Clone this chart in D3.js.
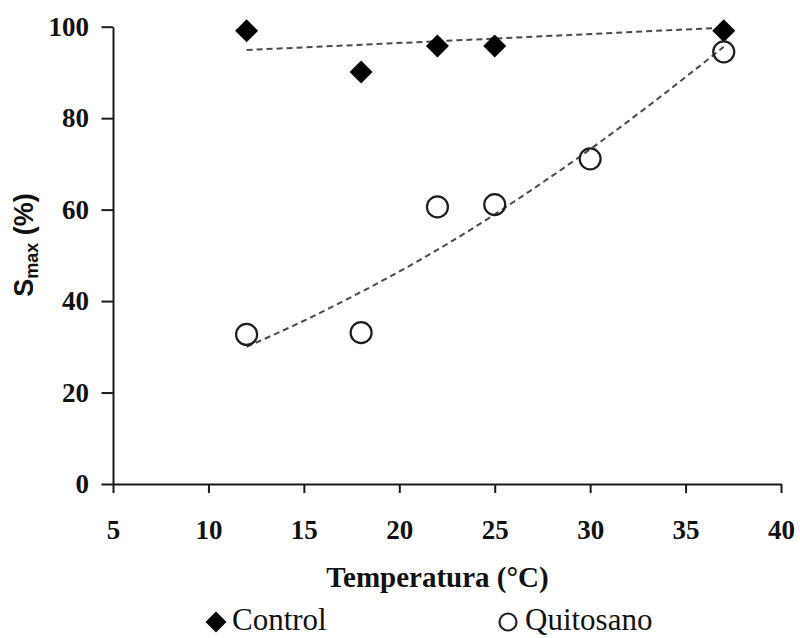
<!DOCTYPE html>
<html>
<head>
<meta charset="utf-8">
<script src="https://cdn.jsdelivr.net/npm/d3@7"></script>
<style>
  html, body { margin: 0; padding: 0; background: #fff; }
  svg { display: block; }
</style>
</head>
<body>
<svg id="chart" width="800" height="638"></svg>
<script>
// ---- data ----
const xTicks = [5, 10, 15, 20, 25, 30, 35, 40];
const yTicks = [0, 20, 40, 60, 80, 100];

const controlTemp = [12, 18, 22, 25, 37];
const controlSmax = [99.1, 90.1, 95.8, 95.8, 99.1];

const quitTemp = [12, 18, 22, 25, 30, 37];
const quitSmax = [32.7, 33.1, 60.6, 61.1, 71.1, 94.5];

// trend lines
const controlTrendTemp = [12, 25, 37];
const controlTrendVal  = [94.9, 97.4, 99.8];
const quitTrendTemp = [12, 15, 18, 21, 24, 27, 30, 33, 37];
const quitTrendVal  = [30.0, 35.7, 42.0, 48.8, 56.3, 64.5, 73.2, 82.5, 95.6];

const xTitle = "Temperatura (°C)";
const legendLabels = ["Control", "Quitosano"];

// ---- layout ----
const svg = d3.select("#chart");
const x = d3.scaleLinear().domain([5, 40]).range([113, 781]);
const y = d3.scaleLinear().domain([0, 100]).range([484, 26.7]);

const serif = "'Liberation Serif', 'Times New Roman', serif";
const sans = "'Liberation Sans', Arial, sans-serif";
const axisColor = "#1a1a1a";

// trend lines
const line = d3.line().x(d => x(d[0])).y(d => y(d[1]));
svg.append("path")
  .datum(controlTrendTemp.map((t, i) => [t, controlTrendVal[i]]))
  .attr("d", line)
  .attr("fill", "none").attr("stroke", "#4a4a4a")
  .attr("stroke-width", 2).attr("stroke-dasharray", "6,4");
svg.append("path")
  .datum(quitTrendTemp.map((t, i) => [t, quitTrendVal[i]]))
  .attr("d", d3.line().x(d => x(d[0])).y(d => y(d[1])).curve(d3.curveMonotoneX))
  .attr("fill", "none").attr("stroke", "#4a4a4a")
  .attr("stroke-width", 2).attr("stroke-dasharray", "6,4");

// axes
const xAxis = svg.append("g")
  .attr("transform", `translate(0,${y(0)})`)
  .call(d3.axisBottom(x).tickValues(xTicks).tickSize(9).tickSizeOuter(0).tickFormat(d3.format("d")));
xAxis.selectAll("text").attr("y", 55).attr("dy", 0);

const yAxis = svg.append("g")
  .attr("transform", `translate(${x(5)},0)`)
  .call(d3.axisLeft(y).tickValues(yTicks).tickSize(11.5).tickSizeOuter(0).tickPadding(12.5).tickFormat(d3.format("d")));

[xAxis, yAxis].forEach(g => {
  g.select(".domain").attr("stroke", axisColor).attr("stroke-width", 2);
  g.selectAll(".tick line").attr("stroke", axisColor).attr("stroke-width", 2);
  g.selectAll("text")
    .attr("fill", "#111")
    .style("font-family", serif)
    .style("font-size", "27px")
    .style("font-weight", "bold");
});

// diamond helper
const diamond = r => `M0,${-r}L${r},0L0,${r}L${-r},0Z`;

// control markers
svg.append("g").selectAll("path")
  .data(controlTemp.map((t, i) => [t, controlSmax[i]]))
  .join("path")
  .attr("transform", d => `translate(${x(d[0])},${y(d[1])})`)
  .attr("d", diamond(11.5))
  .attr("fill", "#000");

// quitosano markers
svg.append("g").selectAll("circle")
  .data(quitTemp.map((t, i) => [t, quitSmax[i]]))
  .join("circle")
  .attr("cx", d => x(d[0]))
  .attr("cy", d => y(d[1]))
  .attr("r", 10.5)
  .attr("fill", "none")
  .attr("stroke", "#1e1e1e")
  .attr("stroke-width", 2.2);

// x title
svg.append("text")
  .attr("x", 437.5).attr("y", 587)
  .attr("text-anchor", "middle")
  .style("font-family", serif).style("font-size", "29px").style("font-weight", "bold")
  .attr("fill", "#111")
  .text(xTitle);

// y title
const yt = svg.append("text")
  .attr("transform", "translate(33,245) rotate(-90)")
  .attr("text-anchor", "middle")
  .style("font-family", sans).style("font-size", "27px").style("font-weight", "bold")
  .attr("fill", "#111");
yt.append("tspan").text("S");
yt.append("tspan").attr("dy", 5).style("font-size", "18px").text("max");
yt.append("tspan").attr("dy", -5).text(" (%)");

// legend
const lg = svg.append("g");
lg.append("path")
  .attr("transform", "translate(216,622)")
  .attr("d", diamond(10.5))
  .attr("fill", "#000");
lg.append("text")
  .attr("x", 232).attr("y", 630)
  .style("font-family", serif).style("font-size", "31px")
  .attr("fill", "#111")
  .text(legendLabels[0]);
lg.append("circle")
  .attr("cx", 508).attr("cy", 622).attr("r", 8.5)
  .attr("fill", "none").attr("stroke", "#222").attr("stroke-width", 2.2);
lg.append("text")
  .attr("x", 525).attr("y", 630)
  .style("font-family", serif).style("font-size", "31px")
  .attr("fill", "#111")
  .text(legendLabels[1]);
</script>
</body>
</html>
